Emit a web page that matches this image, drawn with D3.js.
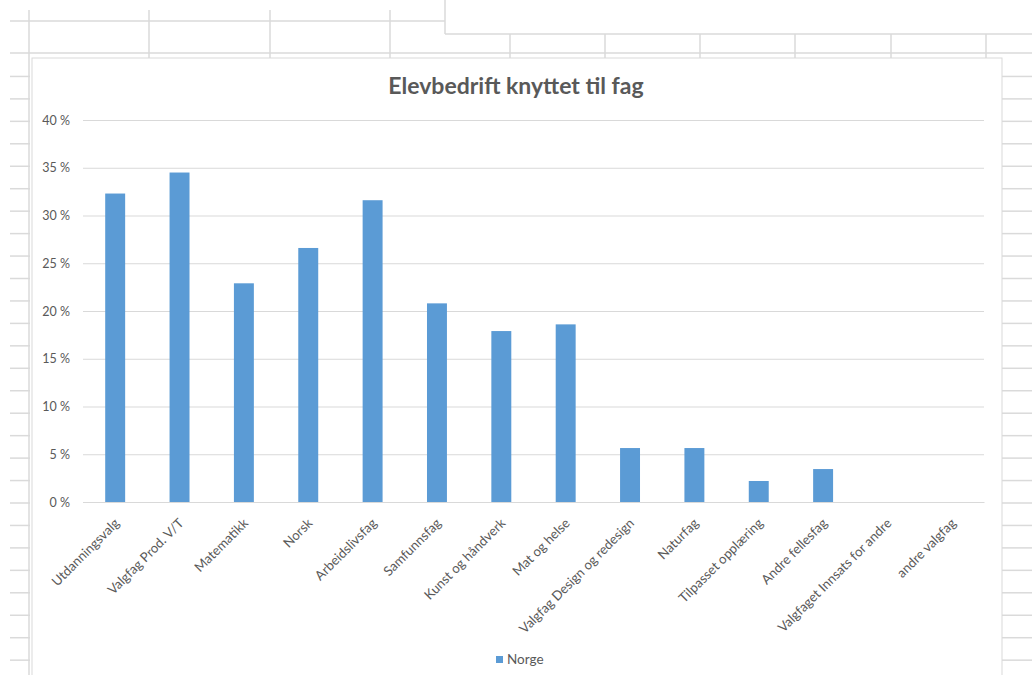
<!DOCTYPE html>
<html>
<head>
<meta charset="utf-8">
<script src="https://cdn.jsdelivr.net/npm/d3@7"></script>
<style>
  body { margin: 0; background: #fff; }
  svg { display: block; font-family: Lato, "Liberation Sans", sans-serif; }
</style>
</head>
<body>
<script>
const categories = ['Utdanningsvalg', 'Valgfag Prod. V/T', 'Matematikk', 'Norsk', 'Arbeidslivsfag',
  'Samfunnsfag', 'Kunst og håndverk', 'Mat og helse', 'Valgfag Design og redesign', 'Naturfag',
  'Tilpasset opplæring', 'Andre fellesfag', 'Valgfaget Innsats for andre', 'andre valgfag'];
const values = [32.3, 34.5, 22.9, 26.6, 31.6, 20.8, 17.9, 18.6, 5.65, 5.65, 2.2, 3.45, 0, 0];
const yTicks = [0, 5, 10, 15, 20, 25, 30, 35, 40];
const seriesName = 'Norge';
const chartTitle = 'Elevbedrift knyttet til fag';

const W = 1032, H = 675;
const textColor = '#595959';
const barColor = '#5b9bd5';

const svg = d3.select('body').append('svg')
  .attr('width', W)
  .attr('height', H);

// spreadsheet cells behind the chart
const sheet = svg.append('g')
  .attr('stroke', '#dadada')
  .attr('stroke-width', 1.5)
  .attr('fill', 'none');

const line = (x1, y1, x2, y2) => sheet.append('line')
  .attr('x1', x1).attr('y1', y1).attr('x2', x2).attr('y2', y2);

line(10, 21, 445, 21);
line(10, 53, W, 53);
line(445, 0, 445, 34);
line(445, 34, W, 34);
line(29, 10, 29, H);
[149, 270, 390].forEach(x => line(x, 10, x, 58));
[510, 605, 700, 795, 891, 986].forEach(x => line(x, 34, x, 58));
for (let y = 54 + 22.45; y < H; y += 22.45) {
  line(10, y, 30, y);
  line(1002, y, W, y);
}

// chart box
svg.append('rect')
  .attr('x', 32).attr('y', 58)
  .attr('width', 970).attr('height', 640)
  .attr('fill', '#fff')
  .attr('stroke', '#d9d9d9');

svg.append('text')
  .attr('x', 516).attr('y', 94)
  .attr('text-anchor', 'middle')
  .attr('font-size', 23)
  .attr('font-weight', 'bold')
  .attr('fill', textColor)
  .text(chartTitle);

const x = d3.scaleBand()
  .domain(categories)
  .range([83, 984])
  .paddingInner(0.69)
  .paddingOuter(0.345);

const y = d3.scaleLinear()
  .domain([0, 40])
  .range([502, 120]);

const yAxis = svg.append('g')
  .attr('transform', 'translate(83,0)')
  .call(d3.axisLeft(y)
    .tickValues(yTicks)
    .tickSize(-901)
    .tickPadding(13)
    .tickFormat(d => d + ' %'));
yAxis.select('.domain').remove();
yAxis.selectAll('line').attr('stroke', '#d9d9d9');
yAxis.selectAll('text')
  .attr('fill', textColor)
  .attr('font-size', 12.5)
  .attr('font-family', 'Lato, sans-serif');

svg.selectAll('rect.bar')
  .data(values)
  .enter()
  .append('rect')
  .classed('bar', true)
  .attr('x', (d, i) => x(categories[i]))
  .attr('width', x.bandwidth())
  .attr('y', d => y(d))
  .attr('height', d => y(0) - y(d))
  .attr('fill', barColor);

const xAxis = svg.append('g')
  .attr('transform', 'translate(0,502)')
  .call(d3.axisBottom(x).tickSize(0).tickPadding(0));
xAxis.select('.domain').attr('stroke', '#d9d9d9');
xAxis.selectAll('text')
  .attr('fill', textColor)
  .attr('font-size', 13.2)
  .attr('font-family', 'Lato, sans-serif')
  .attr('text-anchor', 'end')
  .attr('dy', 0)
  .attr('transform', 'translate(5,22) rotate(-45)');

// legend
svg.append('rect')
  .attr('x', 496).attr('y', 656)
  .attr('width', 7).attr('height', 7)
  .attr('fill', barColor);
svg.append('text')
  .attr('x', 507).attr('y', 664)
  .attr('font-size', 13.5)
  .attr('fill', textColor)
  .text(seriesName);
</script>
</body>
</html>
